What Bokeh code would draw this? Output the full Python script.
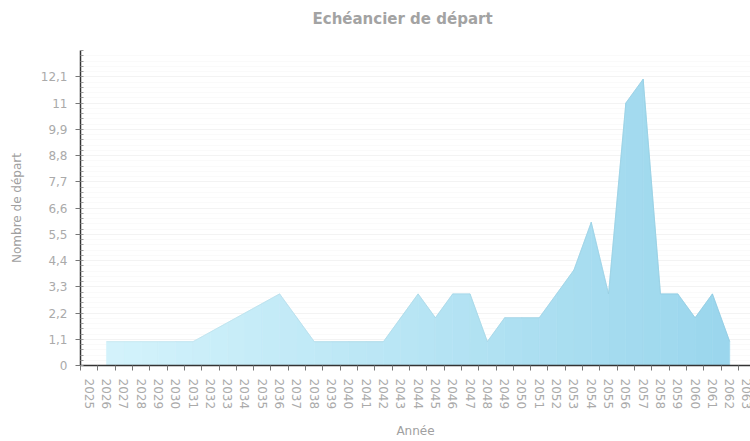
from bokeh.plotting import figure
from bokeh.models import FixedTicker, Range1d, Title
from bokeh.embed import file_html
from bokeh.resources import INLINE

# ---- data ----
years = list(range(2025, 2064))
departs = [None, 1, 1, 1, 1, 1, 1, 1.4, 1.8, 2.2, 2.6, 3, 2, 1, 1, 1, 1, 1,
           2, 3, 2, 3, 3, 1, 2, 2, 2, 3, 4, 6, 3, 11, 12, 3, 3, 2, 3, 1, None]
y_ticks = [0, 1.1, 2.2, 3.3, 4.4, 5.5, 6.6, 7.7, 8.8, 9.9, 11, 12.1]
y_tick_labels = ["0", "1,1", "2,2", "3,3", "4,4", "5,5", "6,6", "7,7",
                 "8,8", "9,9", "11", "12,1"]
title_text = "Echéancier de départ"

x_start, x_end = years[0] - 0.5, 2063.2
y_end = 13.2

p = figure(width=750, height=441, output_backend="svg", toolbar_location=None,
           x_range=Range1d(x_start, x_end), y_range=Range1d(0, y_end),
           min_border_left=80, min_border_right=0, min_border_top=50,
           min_border_bottom=76, outline_line_color=None, title=title_text)

# gradient area: one patch per interval
left_c = (0xd6, 0xf4, 0xfc)
right_c = (0x98, 0xd5, 0xec)
xs, ys, cols, lx, ly, lcols = [], [], [], [], [], []
for i in range(len(years) - 1):
    a, b = departs[i], departs[i + 1]
    if a is None or b is None:
        continue
    x0, x1 = years[i], years[i + 1]
    t = ((x0 + x1) / 2 - x_start) / (x_end - x_start)
    c = tuple(int(round(l * (1 - t) + r * t)) for l, r in zip(left_c, right_c))
    cols.append("#%02x%02x%02x" % c)
    d = tuple(max(0, int(v - 14)) for v in c)
    lcols.append("#%02x%02x%02x" % d)
    xs.append([x0, x0, x1, x1])
    ys.append([0, a, b, 0])
    lx.append([x0, x1])
    ly.append([a, b])

p.patches(xs, ys, fill_color=cols, line_color=cols, line_width=0.6)
p.multi_line(lx, ly, line_color=lcols, line_width=1, line_alpha=0.7)

# real title (outer slot) + small spacer title between it and the frame
p.title.align = "left"
p.title.offset = 232
p.title.vertical_align = "bottom"
p.title.standoff = 0
p.title.text_color = "#a3a3a3"
p.title.text_font = "DejaVu Sans"
p.title.text_font_size = "15px"
p.title.text_font_style = "bold"
p.add_layout(Title(text=" ", text_font_size="1px", standoff=20), "above")

# x axis
xa = p.xaxis[0]
xa.ticker = FixedTicker(ticks=years, minor_ticks=[y - 0.5 for y in years] + [years[-1] + 0.5])
xa.major_tick_out = 0
xa.major_tick_in = 0
xa.minor_tick_out = 5
xa.minor_tick_in = 0
xa.minor_tick_line_color = "#777777"
xa.major_label_orientation = "vertical"
xa.major_label_standoff = 8
xa.major_label_text_font = "DejaVu Sans"
xa.major_label_text_font_size = "12px"
xa.major_label_text_color = "#aaaaaa"
xa.axis_line_color = "#333333"
xa.axis_line_width = 1.5
xa.axis_label = "Année"
xa.axis_label_text_font = "DejaVu Sans"
xa.axis_label_text_font_size = "12px"
xa.axis_label_text_font_style = "normal"
xa.axis_label_text_color = "#a0a0a0"
xa.axis_label_standoff = 12

# y axis
ya = p.yaxis[0]
minor_y = [round(k * 0.22, 2) for k in range(61)]
ya.ticker = FixedTicker(ticks=y_ticks, minor_ticks=minor_y)
ya.major_label_overrides = {t: l for t, l in zip(y_ticks, y_tick_labels)}
ya.major_tick_out = 5
ya.major_tick_in = 0
ya.minor_tick_out = 0
ya.minor_tick_in = 3
ya.major_tick_line_color = "#777777"
ya.minor_tick_line_color = "#999999"
ya.major_label_standoff = 8
ya.major_label_text_font = "DejaVu Sans"
ya.major_label_text_font_size = "12px"
ya.major_label_text_color = "#aaaaaa"
ya.axis_line_color = "#333333"
ya.axis_line_width = 1.5
ya.axis_label = "Nombre de départ"
ya.axis_label_text_font = "DejaVu Sans"
ya.axis_label_text_font_size = "12px"
ya.axis_label_text_font_style = "normal"
ya.axis_label_text_color = "#a0a0a0"
ya.axis_label_standoff = 14

# grid
p.xgrid.grid_line_color = None
p.ygrid.grid_line_color = "#f3f3f3"
p.ygrid.minor_grid_line_color = "#fafafa"

open("out.html", "w").write(file_html(p, INLINE))
